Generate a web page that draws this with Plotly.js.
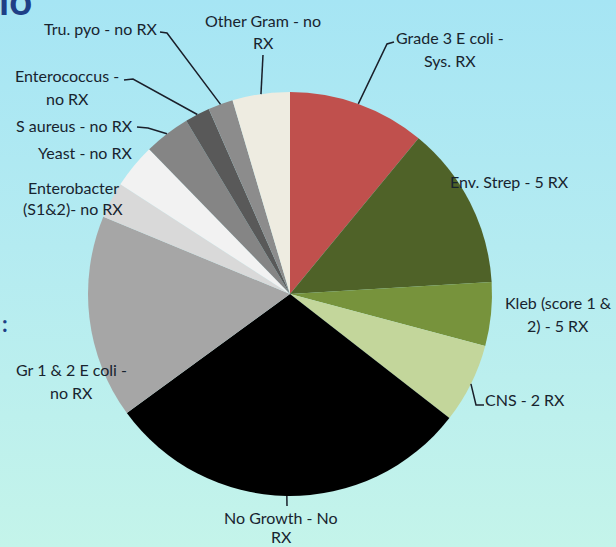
<!DOCTYPE html>
<html>
<head>
<meta charset="utf-8">
<script src="https://cdn.plot.ly/plotly-3.0.1.min.js"></script>
<style>
  html, body { margin: 0; padding: 0; }
  body { width: 616px; height: 547px; background: linear-gradient(180deg, #a6e5f4 0%, #b4ebf1 45%, #c4f4ea 100%); overflow: hidden; }
  #chart { width: 616px; height: 547px; }
</style>
</head>
<body>
<div id="chart"></div>
<script>
// ---- data (share of samples, %) ----
const categories = [
  "Grade 3 E coli -<br>Sys. RX",
  "Env. Strep - 5 RX",
  "Kleb (score 1 &<br>2) - 5 RX",
  "CNS - 2 RX",
  "No Growth - No<br>RX",
  "Gr 1 & 2 E coli -<br>no RX",
  "Enterobacter<br>(S1&2)- no RX",
  "Yeast - no RX",
  "S aureus - no RX",
  "Enterococcus -<br>no RX",
  "Tru. pyo - no RX",
  "Other Gram - no<br>RX"
];
const shares = [11.0, 13.1, 5.1, 6.4, 29.5, 16.3, 2.9, 3.6, 3.7, 2.0, 2.0, 4.6];

// ---- styling / layout (not data) ----
const colors = ["#c0504d", "#4f6228", "#77933c", "#c3d69b", "#000000", "#a6a6a6",
                "#d9d9d9", "#f2f2f2", "#858585", "#595959", "#8c8c8c", "#eeece1"];
const W = 616, H = 547;
const CX = 290, CY = 294, R = 202;          // pie centre / radius in pixels
// label text centre (first line) and leader elbow points, in pixels
const labelPos = [
  {x: 450, y: 38,  gap: 22, elbow: [[387, 44], [394, 42]]},
  {x: 509, y: 181, gap: 22, elbow: null},
  {x: 558, y: 302, gap: 23, elbow: null},
  {x: 525, y: 399, gap: 22, elbow: [[476, 405], [484, 405]]},
  {x: 281, y: 517, gap: 19, elbow: [[287, 506]]},
  {x: 71,  y: 369, gap: 23, elbow: null},
  {x: 73,  y: 188, gap: 20, elbow: null},
  {x: 85,  y: 152, gap: 22, elbow: null},
  {x: 74,  y: 125, gap: 22, elbow: [[148, 128], [137, 127]]},
  {x: 67,  y: 76,  gap: 22, elbow: [[133, 79], [124, 80]]},
  {x: 100, y: 28,  gap: 22, elbow: [[167, 33], [160, 32]]},
  {x: 263, y: 20,  gap: 23, elbow: [[263, 55]]}
];

const px = v => v / W;
const py = v => 1 - v / H;

const total = shares.reduce((a, b) => a + b, 0);
let cum = 0;
const annotations = [];
const shapes = [];
shares.forEach((v, i) => {
  const mid = (cum + v / 2) / total * 2 * Math.PI;   // clockwise from 12 o'clock
  cum += v;
  const rx = CX + R * Math.sin(mid);
  const ry = CY - R * Math.cos(mid);
  const lp = labelPos[i];
  categories[i].split("<br>").forEach((line, k) => {
    annotations.push({
      xref: "paper", yref: "paper", x: px(lp.x), y: py(lp.y + k * lp.gap),
      xanchor: "center", yanchor: "middle", showarrow: false, text: line,
      font: {family: "Lato, 'Open Sans', sans-serif", size: 16, color: "#18242f"}
    });
  });
  if (lp.elbow) {
    let path = `M ${px(rx)},${py(ry)}`;
    lp.elbow.forEach(p => { path += ` L ${px(p[0])},${py(p[1])}`; });
    shapes.push({type: "path", xref: "paper", yref: "paper", path: path,
                 line: {color: "#1a1f2a", width: 1.5}});
  }
});

// slide-title fragments visible at the edges
annotations.push({xref: "paper", yref: "paper", x: px(-3), y: py(26), xanchor: "left", yanchor: "bottom",
  showarrow: false, text: "io", font: {family: "Lato, sans-serif", size: 40, color: "#1f3f86", weight: "bold"}});
annotations.push({xref: "paper", yref: "paper", x: px(0), y: py(323), xanchor: "left", yanchor: "middle",
  showarrow: false, text: ":", font: {family: "Lato, sans-serif", size: 22, color: "#1f3f86", weight: "bold"}});

const trace = {
  type: "pie",
  labels: categories,
  values: shares,
  sort: false,
  direction: "clockwise",
  rotation: 0,
  textinfo: "none",
  marker: {colors: colors, line: {width: 0}},
  domain: {x: [px(CX - R), px(CX + R)], y: [1 - (CY + R) / H, 1 - (CY - R) / H]},
  showlegend: false,
  hoverinfo: "label+percent"
};

Plotly.newPlot("chart", [trace], {
  width: W, height: H,
  margin: {l: 0, r: 0, t: 0, b: 0},
  paper_bgcolor: "rgba(0,0,0,0)",
  plot_bgcolor: "rgba(0,0,0,0)",
  annotations: annotations,
  shapes: shapes
}, {displayModeBar: false, staticPlot: true});
</script>
</body>
</html>
